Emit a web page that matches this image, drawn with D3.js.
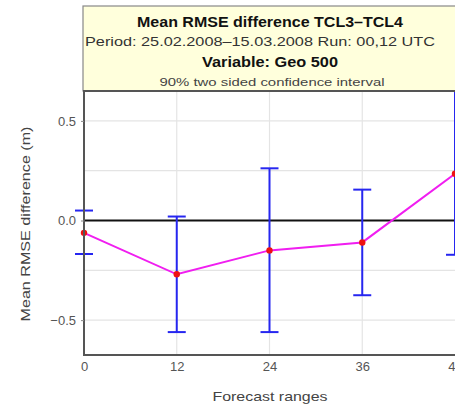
<!DOCTYPE html>
<html><head><meta charset="utf-8">
<script src="https://cdn.jsdelivr.net/npm/d3@7"></script>
<style>body{margin:0;background:#fff;overflow:hidden}svg{display:block;font-family:"Liberation Sans",Arial,sans-serif}</style>
</head><body>
<script>
const ranges = [0, 12, 24, 36, 48];
const meanDiff = [-0.062, -0.27, -0.15, -0.11, 0.235];
const ciLower = [-0.168, -0.56, -0.56, -0.375, -0.172];
const ciUpper = [0.05, 0.02, 0.262, 0.155, 0.66];
const xTicks = [0, 12, 24, 36, 48];
const yTicks = [-0.5, 0.0, 0.5];
const yGrid = [-0.5, -0.25, 0, 0.25, 0.5];
const titleLines = ["Mean RMSE difference TCL3\u2013TCL4", "Period: 25.02.2008\u201315.03.2008  Run: 00,12 UTC", "Variable: Geo 500", "90% two sided confidence interval"];

(function () {
const W = 455, H = 407;
const svg = d3.select("body").append("svg").attr("width", W).attr("height", H);
const pL = 84, pR = 470, pT = 91, pB = 355;
const x = d3.scaleLinear().domain([0, 48]).range([pL, 455]);
const y = d3.scaleLinear().domain([-0.675, 0.65]).range([pB, pT]);

// title box
svg.append("rect").attr("x", 83).attr("y", 6).attr("width", 400).attr("height", 85)
  .attr("fill", "#ffffdc").attr("stroke", "#888").attr("stroke-width", 1.2);
const tStyles = [
  {x: 270, y: 27, size: 14, weight: "bold", fill: "#111", len: 266},
  {x: 260, y: 46, size: 13.5, weight: "normal", fill: "#333", len: 350},
  {x: 270, y: 67, size: 14, weight: "bold", fill: "#111", len: 136},
  {x: 272, y: 86, size: 10.5, weight: "normal", fill: "#444", len: 225}
];
titleLines.forEach((t, i) => {
  const s = tStyles[i];
  svg.append("text").attr("x", s.x).attr("y", s.y).attr("text-anchor", "middle")
    .attr("font-size", s.size).attr("font-weight", s.weight)
    .attr("textLength", s.len).attr("lengthAdjust", "spacingAndGlyphs")
    .attr("fill", s.fill).text(t);
});

// grid
const g = svg.append("g");
g.selectAll("line.gy").data(yGrid).join("line")
  .attr("x1", pL).attr("x2", pR).attr("y1", d => y(d)).attr("y2", d => y(d))
  .attr("stroke", "#e4e4e4").attr("stroke-width", 1.2);
g.selectAll("line.gx").data(xTicks.slice(1, 4)).join("line")
  .attr("x1", d => x(d)).attr("x2", d => x(d)).attr("y1", pT).attr("y2", pB)
  .attr("stroke", "#e4e4e4").attr("stroke-width", 1.2);

// zero line
svg.append("line").attr("x1", pL).attr("x2", pR).attr("y1", y(0)).attr("y2", y(0))
  .attr("stroke", "#111").attr("stroke-width", 2);

// clip
svg.append("clipPath").attr("id", "clip").append("rect")
  .attr("x", pL - 20).attr("y", pT).attr("width", pR - pL + 40).attr("height", pB - pT);
const data = ranges.map((r, i) => ({r, m: meanDiff[i], lo: ciLower[i], hi: ciUpper[i]}));
const dg = svg.append("g").attr("clip-path", "url(#clip)");
const blue = "#2626f0";
dg.selectAll("line.eb").data(data).join("line")
  .attr("x1", d => x(d.r)).attr("x2", d => x(d.r)).attr("y1", d => y(d.lo)).attr("y2", d => y(d.hi))
  .attr("stroke", blue).attr("stroke-width", 2);
dg.selectAll("line.cl").data(data).join("line")
  .attr("x1", d => x(d.r) - 9).attr("x2", d => x(d.r) + 9).attr("y1", d => y(d.lo)).attr("y2", d => y(d.lo))
  .attr("stroke", blue).attr("stroke-width", 2);
dg.selectAll("line.ch").data(data).join("line")
  .attr("x1", d => x(d.r) - 9).attr("x2", d => x(d.r) + 9).attr("y1", d => y(d.hi)).attr("y2", d => y(d.hi))
  .attr("stroke", blue).attr("stroke-width", 2);
dg.append("path").datum(data)
  .attr("d", d3.line().x(d => x(d.r)).y(d => y(d.m)))
  .attr("fill", "none").attr("stroke", "#f01ef0").attr("stroke-width", 2);
dg.selectAll("circle").data(data).join("circle")
  .attr("cx", d => x(d.r)).attr("cy", d => y(d.m)).attr("r", 3.2).attr("fill", "#ee1111");

// frame
svg.append("rect").attr("x", pL).attr("y", pT).attr("width", pR - pL).attr("height", pB - pT)
  .attr("fill", "none").attr("stroke", "#555").attr("stroke-width", 2);

// axes
const xa = svg.append("g").attr("transform", `translate(0,${pB})`)
  .call(d3.axisBottom(x).tickValues(xTicks).tickSize(0).tickPadding(7).tickFormat(d3.format("d")));
xa.select(".domain").remove();
xa.selectAll("text").attr("font-size", 13).attr("fill", "#555").attr("font-family", "Liberation Sans, Arial, sans-serif");
const ya = svg.append("g").attr("transform", `translate(${pL},0)`)
  .call(d3.axisLeft(y).tickValues(yTicks).tickSize(3).tickPadding(5).tickFormat(d => d === 0 ? "0.0" : d3.format(".1f")(d).replace("-", "\u2212")));
ya.select(".domain").remove();
ya.selectAll("line").attr("stroke", "#888");
ya.selectAll("text").attr("font-size", 13).attr("fill", "#555").attr("font-family", "Liberation Sans, Arial, sans-serif");

svg.append("text").attr("x", 270).attr("y", 401).attr("text-anchor", "middle")
  .attr("font-size", 13).attr("fill", "#444")
  .attr("textLength", 115).attr("lengthAdjust", "spacingAndGlyphs").text("Forecast ranges");
svg.append("text").attr("transform", "translate(30,224) rotate(-90)").attr("text-anchor", "middle")
  .attr("font-size", 13).attr("fill", "#444")
  .attr("textLength", 195).attr("lengthAdjust", "spacingAndGlyphs").text("Mean RMSE difference (m)");
})();
</script>
</body></html>
